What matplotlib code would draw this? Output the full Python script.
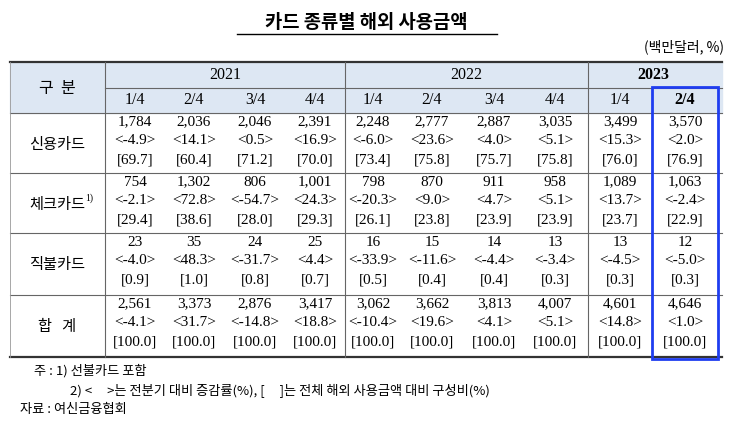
import matplotlib
matplotlib.use("Agg")
import matplotlib.pyplot as plt
from matplotlib.patches import Rectangle

years = ["2021", "2022", "2023"]
quarters = ["1/4", "2/4", "3/4", "4/4", "1/4", "2/4", "3/4", "4/4", "1/4", "2/4"]
categories = ["신용카드", "체크카드", "직불카드", "합   계"]
amounts = [
    ["1,784", "2,036", "2,046", "2,391", "2,248", "2,777", "2,887", "3,035", "3,499", "3,570"],
    ["754", "1,302", "806", "1,001", "798", "870", "911", "958", "1,089", "1,063"],
    ["23", "35", "24", "25", "16", "15", "14", "13", "13", "12"],
    ["2,561", "3,373", "2,876", "3,417", "3,062", "3,662", "3,813", "4,007", "4,601", "4,646"],
]
growth = [
    ["-4.9", "14.1", "0.5", "16.9", "-6.0", "23.6", "4.0", "5.1", "15.3", "2.0"],
    ["-2.1", "72.8", "-54.7", "24.3", "-20.3", "9.0", "4.7", "5.1", "13.7", "-2.4"],
    ["-4.0", "48.3", "-31.7", "4.4", "-33.9", "-11.6", "-4.4", "-3.4", "-4.5", "-5.0"],
    ["-4.1", "31.7", "-14.8", "18.8", "-10.4", "19.6", "4.1", "5.1", "14.8", "1.0"],
]
shares = [
    ["69.7", "60.4", "71.2", "70.0", "73.4", "75.8", "75.7", "75.8", "76.0", "76.9"],
    ["29.4", "38.6", "28.0", "29.3", "26.1", "23.8", "23.9", "23.9", "23.7", "22.9"],
    ["0.9", "1.0", "0.8", "0.7", "0.5", "0.4", "0.4", "0.3", "0.3", "0.3"],
    ["100.0"] * 10,
]

KR = ["Noto Sans CJK KR", "DejaVu Sans"]
SERIF = ["Liberation Serif", "Noto Sans CJK KR"]

fig = plt.figure(figsize=(7.3, 4.26), dpi=100)
ax = fig.add_axes([0, 0, 1, 1])
ax.set_xlim(0, 730); ax.set_ylim(426, 0); ax.axis("off")

ax.text(366, 22, "카드 종류별 해외 사용금액", ha="center", va="center", fontsize=13.5,
        fontweight="bold", family=KR)
ax.plot([237, 497], [34, 34], color="black", lw=1)
ax.text(724, 47, "(백만달러, %)", ha="right", va="center", fontsize=10, family=KR)

L, R = 10, 722
top, h1, h2 = 62, 88, 113
rows = [113, 173, 233, 295, 357]
ax.add_patch(Rectangle((L, top), R - L, h2 - top, color="#dde7f3", zorder=0))
ax.plot([L, R], [top, top], color="#333", lw=1.6)
ax.plot([L, R], [rows[-1], rows[-1]], color="#333", lw=1.6)
ax.plot([105, R], [h1, h1], color="#666", lw=0.8)
for y in rows[:-1]:
    ax.plot([L, R], [y, y], color="#666", lw=0.8)
for x in [105, 345, 588]:
    ax.plot([x, x], [top, rows[-1]], color="#666", lw=0.8)
ax.plot([L, L], [top, rows[-1]], color="#999", lw=0.6)

xs = [135, 194, 255, 315, 373, 432, 494, 555, 620, 685]
ax.text(57, 88, "구  분", ha="center", va="center", fontsize=11.5, family=KR, fontweight="light")
for yr, xc in zip(years, [225, 466, 653]):
    ax.text(xc, 75, yr, ha="center", va="center", fontsize=11.5, family=SERIF,
            fontweight="bold" if yr == "2023" else "normal")
for i, (q, x) in enumerate(zip(quarters, xs)):
    ax.text(x, 100, q, ha="center", va="center", fontsize=11.5, family=SERIF,
            fontweight="bold" if i == 9 else "normal")

for r, cat in enumerate(categories):
    y0 = rows[r]
    ax.text(57, y0 + 31, cat, ha="center", va="center", fontsize=11, family=KR, fontweight="light")
    if r == 1:
        ax.text(85, y0 + 25, "1)", ha="left", va="center", fontsize=7, family=SERIF)
    for c, x in enumerate(xs):
        ax.text(x, y0 + 9, amounts[r][c], ha="center", va="center", fontsize=11, family=SERIF)
        ax.text(x, y0 + 28, "<" + growth[r][c] + ">", ha="center", va="center", fontsize=11, family=SERIF)
        ax.text(x, y0 + 47, "[" + shares[r][c] + "]", ha="center", va="center", fontsize=11, family=SERIF)

ax.add_patch(Rectangle((652, 87), 66, 272, fill=False, edgecolor="#1f3df0", lw=2, zorder=5))

ax.text(34, 371, "주 : 1) 선불카드 포함", ha="left", va="center", fontsize=9.5, family=KR, fontweight="light")
ax.text(70, 391, "2) <     >는 전분기 대비 증감률(%), [     ]는 전체 해외 사용금액 대비 구성비(%)",
        ha="left", va="center", fontsize=9.5, family=KR, fontweight="light")
ax.text(20, 410, "자료 : 여신금융협회", ha="left", va="center", fontsize=9.5, family=KR, fontweight="light")

fig.savefig("out.png", dpi=100)
